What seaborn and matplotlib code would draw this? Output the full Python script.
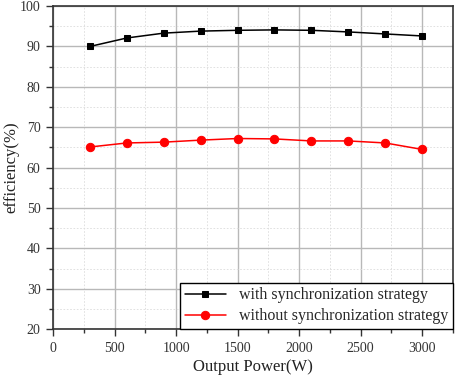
import pandas as pd
import numpy as np
import matplotlib
matplotlib.use("Agg")
import matplotlib.pyplot as plt
import seaborn as sns
from matplotlib.ticker import MultipleLocator

# data
power = [300, 600, 900, 1200, 1500, 1800, 2100, 2400, 2700, 3000]
eff_sync = [90.0, 92.1, 93.3, 93.8, 94.0, 94.1, 94.0, 93.6, 93.1, 92.6]
eff_nosync = [65.1, 66.1, 66.3, 66.8, 67.2, 67.1, 66.6, 66.6, 66.1, 64.5]

sns.set_style("ticks")
plt.rcParams['font.family'] = ['Liberation Serif', 'DejaVu Serif']

fig = plt.figure(figsize=(4.57, 3.8), dpi=100)
ax = fig.add_axes([0.116, 0.134, 0.875, 0.850])

sns.lineplot(x=power, y=eff_sync, ax=ax, color='black', marker='s', markersize=5,
             markeredgecolor='black', linewidth=1.1, label='with synchronization strategy')
sns.lineplot(x=power, y=eff_nosync, ax=ax, color='red', marker='o', markersize=6,
             markeredgecolor='red', linewidth=1.1, label='without synchronization strategy')

ax.set_xlim(0, 3250)
ax.set_ylim(20, 100)
ax.xaxis.set_major_locator(MultipleLocator(500))
ax.xaxis.set_minor_locator(MultipleLocator(250))
ax.yaxis.set_major_locator(MultipleLocator(10))
ax.yaxis.set_minor_locator(MultipleLocator(5))
ax.grid(which='major', color='#b8b8b8', linewidth=1.0)
ax.grid(which='minor', color='#dcdcdc', linewidth=0.6, linestyle=(0, (2, 2)))
ax.set_axisbelow(True)
ax.tick_params(which='major', direction='out', length=5, width=1, labelsize=10,
               colors='#333333', pad=4)
ax.tick_params(which='minor', direction='out', length=3, width=1, colors='#333333')
for s in ax.spines.values():
    s.set_color('#333333')
    s.set_linewidth(1.2)

ax.set_xlabel('Output Power(W)', fontsize=12, color='#222222', labelpad=3)
ax.set_ylabel('efficiency(%)', fontsize=12, color='#222222')
ax.yaxis.set_label_coords(-0.083, 0.5)

leg = ax.legend(loc='lower right', fontsize=11.5, frameon=True, fancybox=False,
                borderaxespad=0.0, handlelength=2.6, borderpad=0.3, labelspacing=0.3)
leg.get_frame().set_edgecolor('black')
leg.get_frame().set_linewidth(1.0)
leg.get_frame().set_alpha(1)

fig.savefig('out.png', dpi=100)
